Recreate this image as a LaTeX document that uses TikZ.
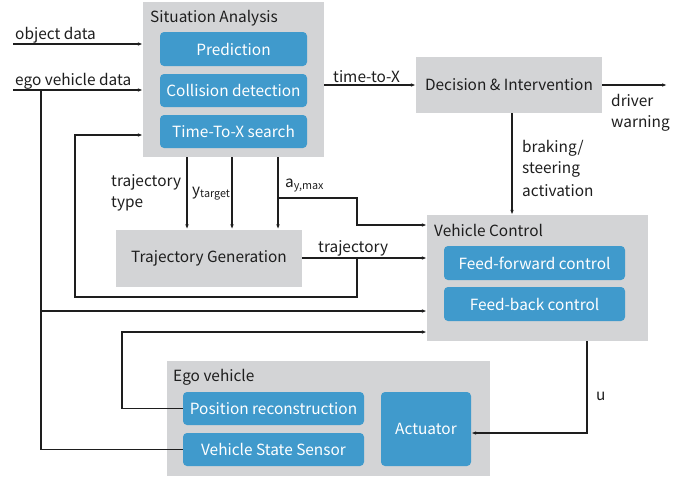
\documentclass[tikz,border=0pt]{standalone}
\usepackage{fontspec}
\setmainfont{Noto Sans CJK JP}
\usetikzlibrary{arrows.meta}
\definecolor{boxgray}{RGB}{211,212,214}
\definecolor{boxblue}{RGB}{64,154,204}
\definecolor{txt}{RGB}{30,30,30}
\begin{document}
\begin{tikzpicture}[x=1pt,y=-1pt,
  font=\fontsize{15.4}{18}\selectfont,
  graybox/.style={fill=boxgray,draw=none,minimum width=#1,inner sep=0pt,text=txt},
  bluebox/.style={fill=boxblue,draw=none,rounded corners=4pt,inner sep=0pt,text=white},
  lbl/.style={anchor=base west,inner sep=0pt,text=txt},
  arr/.style={-{Latex[length=5pt,width=3.6pt]},line width=1.1pt,draw=txt},
  ln/.style={line width=1.1pt,draw=txt}]
\useasboundingbox (0,0) rectangle (695,479);
% boxes
\node[graybox=181pt,minimum height=155pt] (SA) at (233.5,79.5) {};
\node[lbl] (SAt) at (150,22) {Situation Analysis};
\node[bluebox,minimum width=147pt,minimum height=34pt] (Pred) at (233.5,49) {Prediction};
\node[bluebox,minimum width=147pt,minimum height=33pt] (Coll) at (233.5,90.5) {Collision detection};
\node[bluebox,minimum width=147pt,minimum height=33pt] (TTX) at (233.5,131.5) {Time-To-X search};
\node[graybox=186pt,minimum height=56pt] (DI) at (509,85) {Decision \& Intervention};
\node[graybox=186pt,minimum height=57pt] (TG) at (209,258) {Trajectory Generation};
\node[graybox=221pt,minimum height=126pt] (VC) at (537.5,278) {};
\node[lbl] (VCt) at (434,236) {Vehicle Control};
\node[bluebox,minimum width=181pt,minimum height=34pt] (FF) at (534.5,263) {Feed-forward control};
\node[bluebox,minimum width=181pt,minimum height=34pt] (FB) at (534.5,304) {Feed-back control};
\node[graybox=323pt,minimum height=115pt] (EV) at (328.5,418.5) {};
\node[lbl] (EVt) at (173,381) {Ego vehicle};
\node[bluebox,minimum width=181pt,minimum height=33pt] (PR) at (273.5,408.5) {Position reconstruction};
\node[bluebox,minimum width=181pt,minimum height=33pt] (VSS) at (273.5,449.5) {Vehicle State Sensor};
\node[bluebox,minimum width=90pt,minimum height=74pt] (Act) at (426,429) {Actuator};
% coordinates
\coordinate (od) at (13,44);
\coordinate (ed) at (13,90);
\coordinate (j1) at (41,90);
\coordinate (j2) at (41,311);
\coordinate (p1) at (122,332);
\coordinate (t1) at (357,258);
\coordinate (f1) at (75,297);
\coordinate (f2) at (75,135);
\coordinate (c1) at (187,0);
\coordinate (c2) at (232,0);
\coordinate (c3) at (278,0);
\coordinate (a1) at (278,198);
\coordinate (a2) at (357,225);
\coordinate (b1) at (512,0);
\coordinate (dw) at (667,85);
\coordinate (u1) at (587,433);
% connectors
\draw[arr] (od) -- (od -| SA.west);
\draw[arr] (ed) -- (ed -| SA.west);
\draw[ln] (VSS.west) -| (j1);
\draw[arr] (j2) -- (j2 -| VC.west);
\draw[arr] (PR.west) -| (p1) -- (p1 -| VC.west);
\draw[arr] (TG.east) -- (TG.east -| VC.west);
\draw[arr] (t1) |- (f1) -- (f2) -- (f2 -| SA.west);
\draw[arr] (SA.south -| c1) -- (TG.north -| c1);
\draw[arr] (SA.south -| c2) -- (TG.north -| c2);
\draw[arr] (SA.south -| c3) -- (TG.north -| c3);
\draw[arr] (a1) -| (a2) -- (a2 -| VC.west);
\draw[arr] (SA.east |- DI.west) -- (DI.west);
\draw[arr] (DI.east) -- (dw);
\draw[arr] (DI.south -| b1) -- (VC.north -| b1);
\draw[arr] (VC.south -| u1) -- (u1) -- (u1 -| Act.east);
% labels
\node[lbl] (l1) at (15,39) {object data};
\node[lbl] (l2) at (15,85) {ego vehicle data};
\node[lbl] (l3) at (333,82) {time-to-X};
\node[lbl] (l4) at (611,106) {driver};
\node[lbl] (l5) at (611,127) {warning};
\node[lbl] (l6) at (522,152) {braking/};
\node[lbl] (l7) at (522,173) {steering};
\node[lbl] (l8) at (522,196) {activation};
\node[lbl] (l9) at (111,186) {trajectory};
\node[lbl] (l10) at (111,207) {type};
\node[lbl] (l11) at (192,195) {y\textsubscript{target}};
\node[lbl] (l12) at (285,187) {a\textsubscript{y,max}};
\node[lbl] (l13) at (318,252) {trajectory};
\node[lbl] (l14) at (596,400) {u};
\end{tikzpicture}
\end{document}
